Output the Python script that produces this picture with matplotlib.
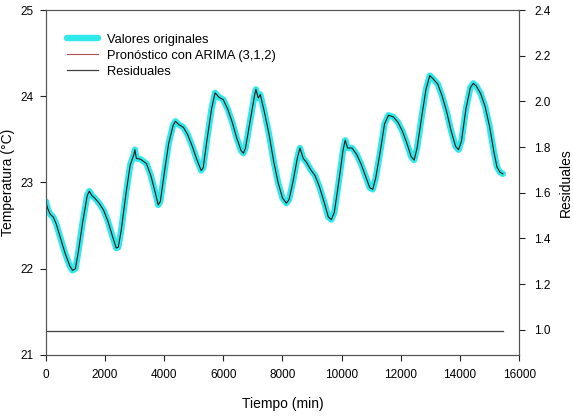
import matplotlib.pyplot as plt

tiempo = [0, 60, 150, 250, 350, 500, 650, 800, 900, 1000, 1100, 1250, 1400, 1470, 1550,
          1650, 1800, 1950, 2100, 2250, 2380, 2450, 2550, 2700, 2850, 2980, 3010, 3060,
          3200, 3400, 3550, 3700, 3800, 3870, 4000, 4150, 4300, 4380, 4500, 4650, 4800,
          4950, 5100, 5250, 5320, 5450, 5600, 5720, 5850, 6000, 6150, 6300, 6450, 6600,
          6680, 6750, 6900, 7050, 7100, 7180, 7250, 7400, 7550, 7700, 7850, 8000, 8130,
          8220, 8350, 8500, 8590, 8700, 8800, 8950, 9100, 9250, 9400, 9550, 9650, 9750,
          9900, 10050, 10120, 10200, 10350, 10500, 10650, 10800, 10950, 11050, 11150,
          11300, 11450, 11580, 11750, 11900, 12050, 12200, 12350, 12450, 12550, 12700,
          12850, 12980, 13100, 13250, 13400, 13550, 13700, 13850, 13950, 14050, 14200,
          14350, 14450, 14550, 14700, 14850, 15000, 15150, 15250, 15350, 15450]
temperatura = [22.78, 22.70, 22.63, 22.60, 22.52, 22.35, 22.18, 22.04, 21.98, 22.00, 22.20,
               22.55, 22.85, 22.90, 22.85, 22.82, 22.76, 22.68, 22.55, 22.38, 22.24, 22.25,
               22.45, 22.85, 23.20, 23.33, 23.38, 23.28, 23.27, 23.22, 23.08, 22.88, 22.74,
               22.78, 23.10, 23.45, 23.66, 23.71, 23.67, 23.64, 23.55, 23.42, 23.27, 23.14,
               23.17, 23.50, 23.85, 24.04, 23.99, 23.96, 23.85, 23.70, 23.52, 23.37, 23.34,
               23.40, 23.70, 24.00, 24.08, 23.98, 24.02, 23.80, 23.55, 23.25, 23.00, 22.82,
               22.76, 22.80, 23.00, 23.28, 23.40, 23.28, 23.24, 23.15, 23.08, 22.95, 22.78,
               22.60, 22.57, 22.65, 23.00, 23.38, 23.49, 23.40, 23.40, 23.33, 23.22, 23.08,
               22.94, 22.92, 23.05, 23.35, 23.68, 23.78, 23.76, 23.70, 23.60, 23.46, 23.30,
               23.26, 23.40, 23.75, 24.08, 24.24, 24.20, 24.14, 24.00, 23.82, 23.60, 23.42,
               23.38, 23.48, 23.85, 24.10, 24.15, 24.12, 24.03, 23.88, 23.65, 23.35, 23.18,
               23.12, 23.10]
# ARIMA(3,1,2) forecast follows the data almost exactly
pronostico = list(temperatura)

# residuals (right axis), flat at ~1.0
tiempo_res = [0, 4000, 8000, 12000, 15450]
residuales = [0.995, 0.995, 0.995, 0.995, 0.995]

plt.rcParams['font.family'] = ['Liberation Sans', 'DejaVu Sans']
plt.rcParams['font.size'] = 8.5

fig, ax = plt.subplots(figsize=(5.73, 4.20), dpi=100)
fig.subplots_adjust(left=0.080, right=0.906, bottom=0.155, top=0.976)

l1, = ax.plot(tiempo, temperatura, color='#2ee8ea', lw=4.6, solid_capstyle='round',
              label='Valores originales')
l2, = ax.plot(tiempo, pronostico, color='#3a1414', lw=0.8,
              label='Pronóstico con ARIMA (3,1,2)')

ax2 = ax.twinx()
l3, = ax2.plot(tiempo_res, residuales, color='#404040', lw=0.9, label='Residuales')

ax.set_xlim(0, 16000)
ax.set_ylim(21, 25)
ax.set_xticks(range(0, 16001, 2000))
ax.set_yticks([21, 22, 23, 24, 25])
ax2.set_ylim(0.89, 2.4)
ax2.set_yticks([1.0, 1.2, 1.4, 1.6, 1.8, 2.0, 2.2, 2.4])
ax2.set_yticklabels([f'{v:.1f}' for v in [1.0, 1.2, 1.4, 1.6, 1.8, 2.0, 2.2, 2.4]])

for a in (ax, ax2):
    a.tick_params(direction='out', length=4, width=0.8, colors='#222222', labelcolor='black')
    for s in a.spines.values():
        s.set_color('#555555')
        s.set_linewidth(0.8)
ax.tick_params(axis='x', pad=6)
ax.tick_params(axis='y', pad=5)
ax2.tick_params(axis='y', pad=7)

ax.set_xlabel('Tiempo (min)', fontsize=10, labelpad=12)
ax.set_ylabel('Temperatura (°C)', fontsize=10)
ax.yaxis.set_label_coords(-0.066, 0.5)
ax2.set_ylabel('Residuales', fontsize=10, labelpad=6)

leg = ax.legend(handles=[l1, l2, l3], loc='upper left', bbox_to_anchor=(0.02, 0.965),
                frameon=False, fontsize=9.3, handlelength=2.4, labelspacing=0.3,
                handletextpad=0.7)
leg.get_lines()[1].set_color('#b05050')

plt.savefig('out.png', dpi=100)
